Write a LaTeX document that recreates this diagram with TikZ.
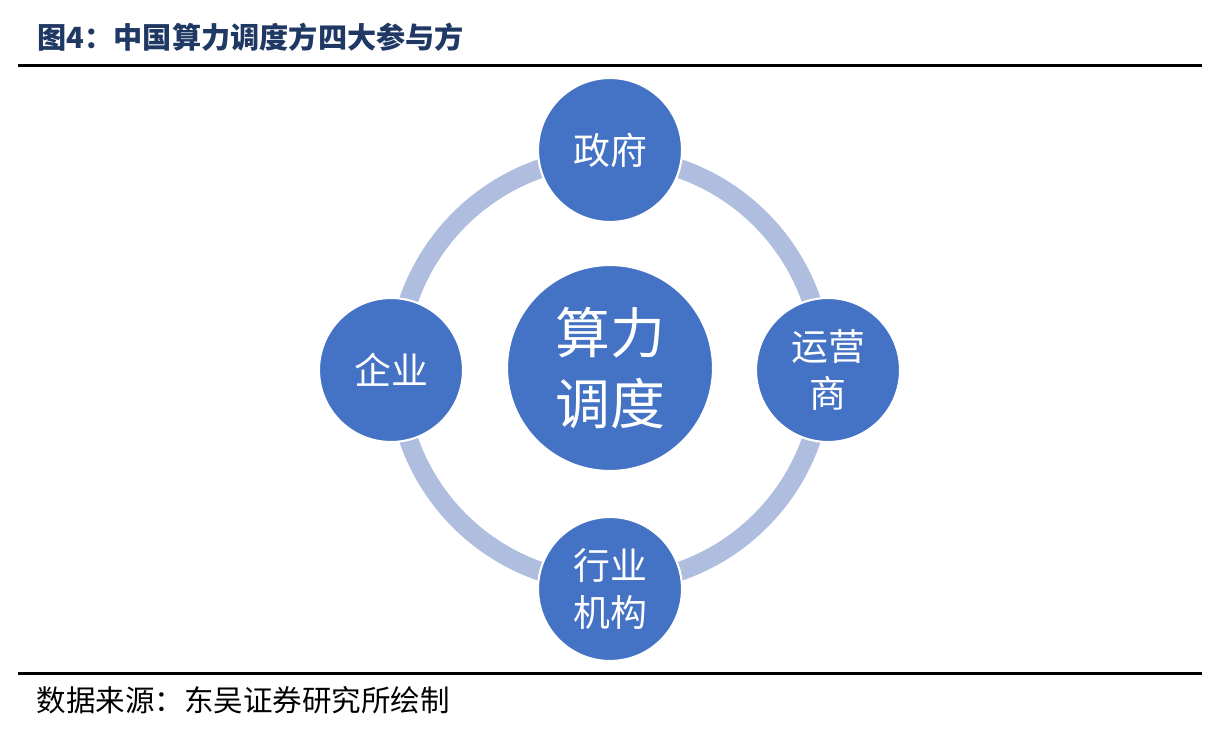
\documentclass[tikz,border=0pt]{standalone}
\usepackage{fontspec}
\newfontfamily\cjk{Noto Sans CJK SC}
\definecolor{partyblue}{HTML}{4472C4}
\definecolor{ringblue}{HTML}{AFBDDE}
\definecolor{titlenavy}{HTML}{1F3864}
\tikzset{
party/.style={circle, fill=partyblue, draw=white, line width=0.6pt, minimum size=1.44cm, inner sep=0pt, text=white, align=center, font=\cjk\fontsize{10.5}{13.4}\selectfont},
hub/.style={party, minimum size=2.06cm, font=\cjk\fontsize{15.6}{20}\selectfont},
ring/.style={ringblue, line width=0.19cm},
rule/.style={line width=0.03cm}
}
\begin{document}
\begin{tikzpicture}
\useasboundingbox (0,0) rectangle (12.22,7.33);
\node[anchor=west, text=titlenavy, font=\cjk\bfseries\fontsize{8.3}{10}\selectfont, inner sep=0pt] (title) at (0.37,6.96) {图4：中国算力调度方四大参与方};
\coordinate (rulea) at (0.18,6.675);\coordinate (ruleb) at (12.02,6.675);\draw[rule] (rulea) -- (ruleb);
\coordinate (rulec) at (0.18,0.595);\coordinate (ruled) at (12.02,0.595);\draw[rule] (rulec) -- (ruled);
\node[anchor=west, font=\cjk\fontsize{8.4}{10}\selectfont, inner sep=0pt] (source) at (0.36,0.33) {数据来源：东吴证券研究所绘制};
% ring and the four parties
\coordinate (mid) at (6.10,3.63);
\draw[ring] (mid) circle[radius=2.13];
\node[hub] (calc) at (6.10,3.65) {算力\\调度};
\node[party] (gov) at (6.10,5.83) {政府};
\node[party] (oper) at (8.28,3.63) {运营\\商};
\node[party] (inst) at (6.10,1.44) {行业\\机构};
\node[party] (firm) at (3.91,3.63) {企业};
\end{tikzpicture}
\end{document}
